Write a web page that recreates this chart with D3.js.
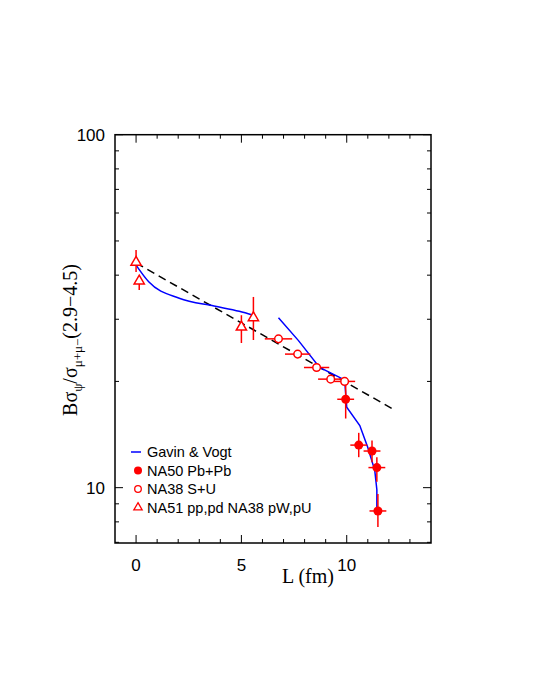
<!DOCTYPE html><html><head><meta charset="utf-8"><script src="https://cdn.jsdelivr.net/npm/d3@7"></script>
<style>body{margin:0;background:#fff}</style></head><body><svg id="c" width="535" height="692"></svg><script>
const xTicks=[0,5,10];
const yTicks=[10,100];
// NA51/NA38 pp,pd,pW,pU: [L, value, lo, hi]
const triData=[[0,43.5,40.8,47.1],[0.15,38.5,36.3,39.8],[5.0,28.5,25.7,30.8],[5.57,30.3,26.2,34.7]];
// NA38 S+U: [L, value, xerr]
const openData=[[6.76,26.4,0.65],[7.67,23.9,0.6],[8.57,21.9,0.6],[9.24,20.3,0.6],[9.9,20.0,0.5]];
// NA50 Pb+Pb: [L, value, lo, hi, xerr]
const fillData=[[9.95,17.8,15.7,19.5,0.4],[10.57,13.2,12.2,14.3,0.4],[11.2,12.7,11.8,13.6,0.4],[11.43,11.4,10.4,12.2,0.4],[11.48,8.59,7.74,9.6,0.4]];
const curve1=[[0,42.7],[0.6,38.3],[2.05,34.4],[3.7,32.7],[4.9,31.6],[5.57,30.8]];
const curve2=[[6.76,30.3],[7.71,26.1],[8.71,21.9],[9.9,20.2],[10.0,16.9],[10.62,15.0],[11.0,13.0],[11.33,11.2],[11.43,9.87],[11.43,8.65]];
const dashLine=[[0,43.3],[12.19,16.7]];
const svg=d3.select("#c");
const L=115,R=431,T=134.7,B=543;
const x=d3.scaleLinear().domain([-1,14]).range([L,R]);
const y=d3.scaleLog().domain([6.97,100]).range([B,T]);
const g=svg.append("g");
g.append("rect").attr("x",L).attr("y",T).attr("width",R-L).attr("height",B-T).attr("fill","none").attr("stroke","#000").attr("stroke-width",1.5);
const minorX=d3.range(0,14);
minorX.forEach(v=>{const big=xTicks.includes(v);const l=big?8:4;
 g.append("line").attr("x1",x(v)).attr("x2",x(v)).attr("y1",B).attr("y2",B-l).attr("stroke","#000");
 g.append("line").attr("x1",x(v)).attr("x2",x(v)).attr("y1",T).attr("y2",T+l).attr("stroke","#000");});
const minorY=[7,8,9,10,20,30,40,50,60,70,80,90,100];
minorY.forEach(v=>{const big=yTicks.includes(v);const l=big?8:4;
 g.append("line").attr("x1",L).attr("x2",L+l).attr("y1",y(v)).attr("y2",y(v)).attr("stroke","#000");
 g.append("line").attr("x1",R).attr("x2",R-l).attr("y1",y(v)).attr("y2",y(v)).attr("stroke","#000");});
xTicks.forEach(v=>g.append("text").attr("x",x(v)).attr("y",B+28).attr("text-anchor","middle").attr("font-family","Liberation Sans, Arial").attr("font-size",17).text(v));
yTicks.forEach(v=>g.append("text").attr("x",L-10).attr("y",y(v)+6).attr("text-anchor","end").attr("font-family","Liberation Sans, Arial").attr("font-size",17).text(v));
g.append("text").attr("x",308).attr("y",583).attr("text-anchor","middle").attr("font-family","Liberation Serif, Times New Roman").attr("font-size",20).text("L (fm)");
const yl=g.append("text").attr("transform","translate(77,340) rotate(-90)").attr("text-anchor","middle").attr("font-family","Liberation Serif, Times New Roman").attr("font-size",20);
yl.append("tspan").text("Bσ");yl.append("tspan").attr("font-size",13).attr("dy",5).text("ψ");
yl.append("tspan").attr("dy",-5).text("/σ");yl.append("tspan").attr("font-size",13).attr("dy",5).text("μ+μ−");
yl.append("tspan").attr("dy",-5).text("(2.9−4.5)");
g.append("path").attr("d",d3.line().x(d=>x(d[0])).y(d=>y(d[1]))(dashLine)).attr("stroke","#000").attr("stroke-width",1.5).attr("stroke-dasharray","8,5").attr("fill","none");
g.append("path").attr("d",d3.line().x(d=>x(d[0])).y(d=>y(d[1])).curve(d3.curveMonotoneX)(curve1)).attr("stroke","#0000ff").attr("stroke-width",1.5).attr("fill","none");
g.append("path").attr("d",d3.line().x(d=>x(d[0])).y(d=>y(d[1]))(curve2)).attr("stroke","#0000ff").attr("stroke-width",1.5).attr("fill","none");
const red="#ff0000";
function vbar(xv,lo,hi){g.append("line").attr("x1",x(xv)).attr("x2",x(xv)).attr("y1",y(lo)).attr("y2",y(hi)).attr("stroke",red).attr("stroke-width",1.5);}
function hbar(xv,yv,e){g.append("line").attr("x1",x(xv-e)).attr("x2",x(xv+e)).attr("y1",y(yv)).attr("y2",y(yv)).attr("stroke",red).attr("stroke-width",1.5);}
const tri=d3.symbol().type(d3.symbolTriangle).size(45);
triData.forEach(d=>{vbar(d[0],d[2],d[3]);g.append("path").attr("d",tri()).attr("transform",`translate(${x(d[0])},${y(d[1])})`).attr("fill","#fff").attr("stroke",red).attr("stroke-width",1.5);});
openData.forEach(d=>{hbar(d[0],d[1],d[2]);g.append("circle").attr("cx",x(d[0])).attr("cy",y(d[1])).attr("r",3.8).attr("fill","#fff").attr("stroke",red).attr("stroke-width",1.5);});
fillData.forEach(d=>{vbar(d[0],d[2],d[3]);hbar(d[0],d[1],d[4]);g.append("circle").attr("cx",x(d[0])).attr("cy",y(d[1])).attr("r",4.5).attr("fill",red);});
const lg=[["Gavin & Vogt","line"],["NA50 Pb+Pb","fill"],["NA38 S+U","open"],["NA51 pp,pd NA38 pW,pU","tri"]];
lg.forEach((d,i)=>{const ly=452+i*18.5,lx=138;
 if(d[1]=="line")g.append("line").attr("x1",lx-7).attr("x2",lx+3).attr("y1",ly).attr("y2",ly).attr("stroke","#0000ff").attr("stroke-width",1.5);
 if(d[1]=="fill")g.append("circle").attr("cx",lx).attr("cy",ly).attr("r",4).attr("fill",red);
 if(d[1]=="open")g.append("circle").attr("cx",lx).attr("cy",ly).attr("r",3.3).attr("fill","none").attr("stroke",red).attr("stroke-width",1.3);
 if(d[1]=="tri")g.append("path").attr("d",d3.symbol().type(d3.symbolTriangle).size(30)()).attr("transform",`translate(${lx},${ly})`).attr("fill","none").attr("stroke",red).attr("stroke-width",1.3);
 g.append("text").attr("x",lx+9).attr("y",ly+5).attr("font-family","Liberation Sans, Arial").attr("font-size",14.5).text(d[0]);});
</script></body></html>
